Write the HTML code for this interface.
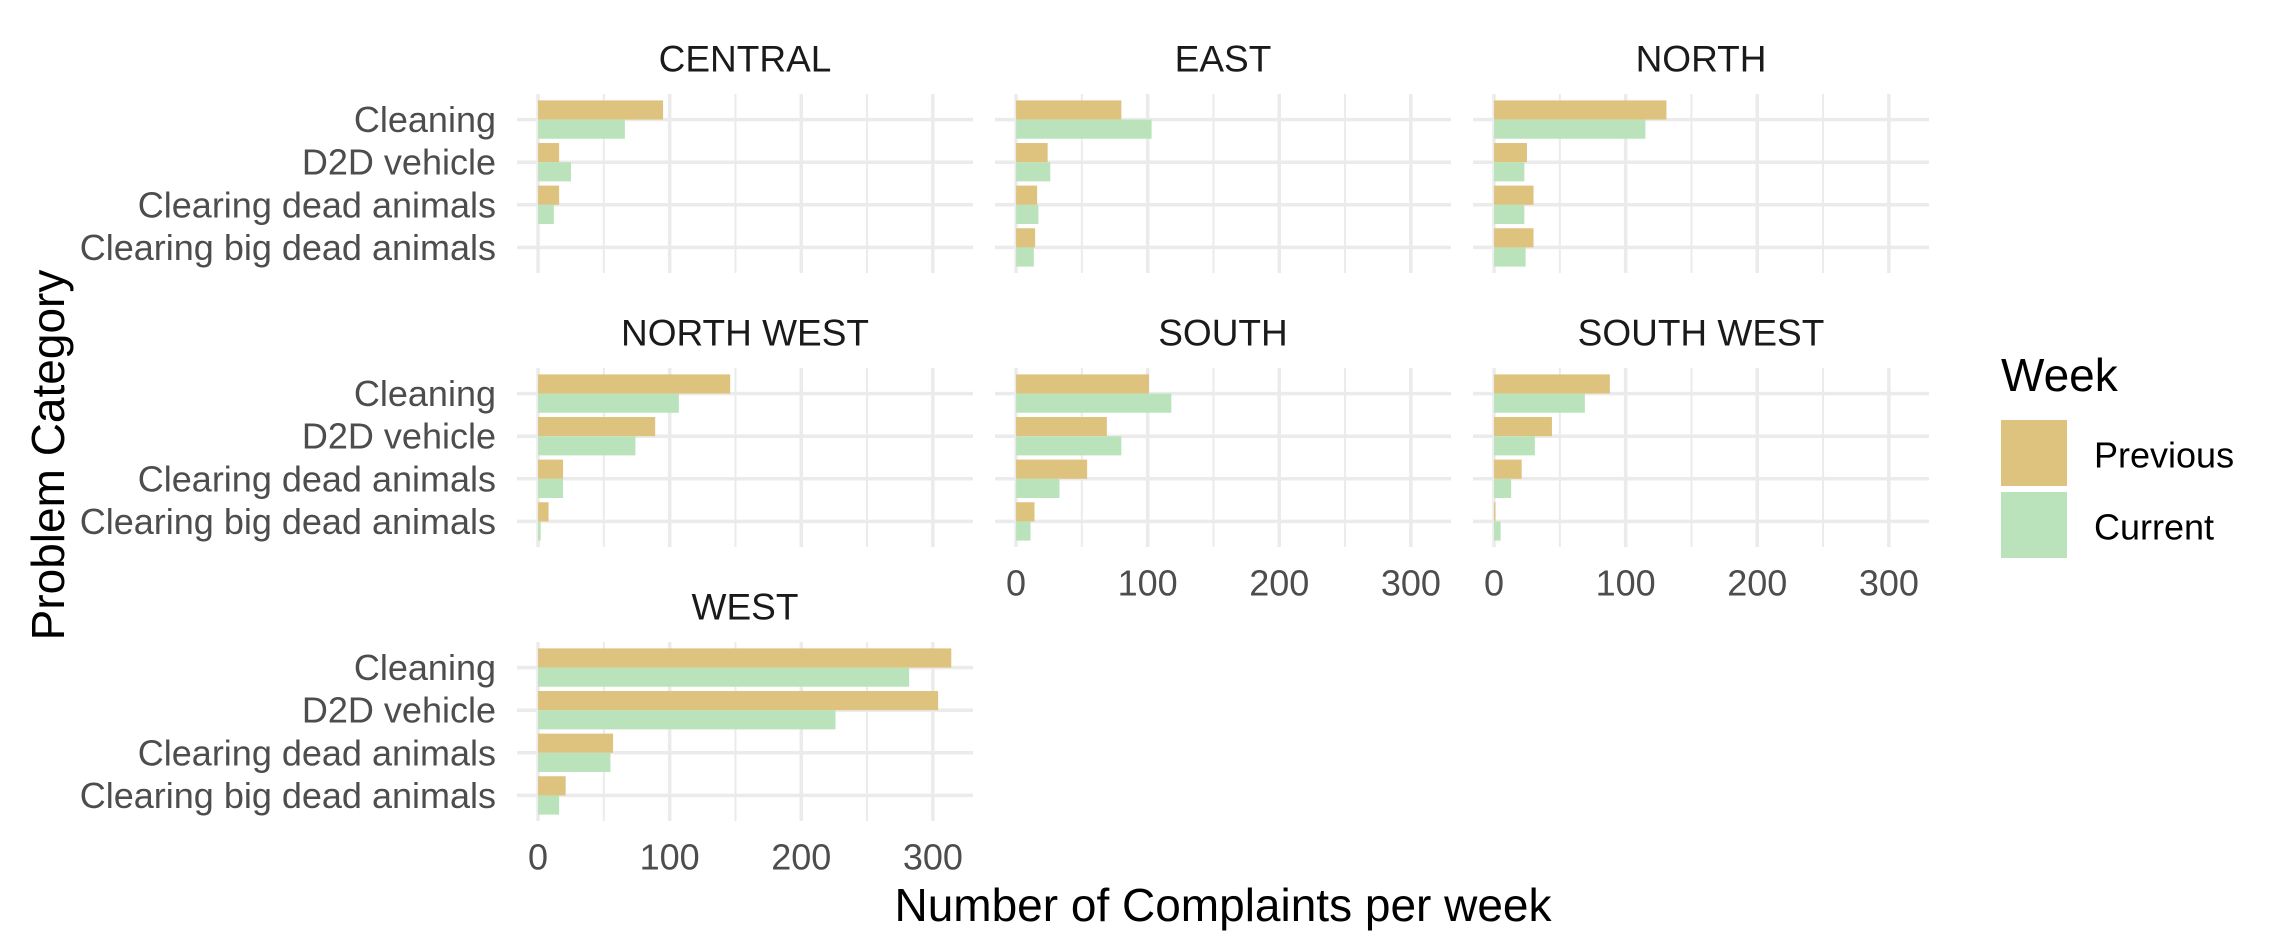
<!DOCTYPE html>
<html><head><meta charset="utf-8"><style>
html,body{margin:0;padding:0;background:#fff;}
svg{display:block;font-family:"Liberation Sans",Arial,sans-serif;}
</style></head><body>
<svg id="chart" width="2281" height="952" viewBox="0 0 2281 952">
<rect width="2281" height="952" fill="#fff"/>
<g id="panels"></g>
<text x="48" y="455" font-size="46" fill="#000" text-anchor="middle" dominant-baseline="central" transform="rotate(-90 48 455)">Problem Category</text>
<text x="1223" y="905" font-size="46" fill="#000" text-anchor="middle" dominant-baseline="central">Number of Complaints per week</text>
<g>
<text x="2001" y="375" font-size="46" fill="#000" dominant-baseline="central">Week</text>
<rect x="2001" y="420" width="66" height="66" fill="#dec37f"/>
<text x="2094" y="455" font-size="36" fill="#000" dominant-baseline="central">Previous</text>
<rect x="2001" y="492" width="66" height="66" fill="#bbe3bb"/>
<text x="2094" y="527" font-size="36" fill="#000" dominant-baseline="central">Current</text>
</g>
</svg>
<script>
const regions = ["CENTRAL","EAST","NORTH","NORTH WEST","SOUTH","SOUTH WEST","WEST"];
const categories = ["Cleaning","D2D vehicle","Clearing dead animals","Clearing big dead animals"];
const previousValues = [
  [95,16,16,0],
  [80,24,16,14.5],
  [131,25,30,30],
  [146,89,19,8],
  [101,69,54,14],
  [88,44,21,1],
  [314,304,57,21]
];
const currentValues = [
  [66,25,12,0],
  [103,26,17,13.5],
  [115,23,23,24],
  [107,74,19,2],
  [118,80,33,11],
  [69,31,13,5],
  [282,226,55,16]
];
const xTicks = [0,100,200,300];
const xMinor = [50,150,250];

const NS = "http://www.w3.org/2000/svg";
const root = document.getElementById('panels');
const colLeft = [517,995,1473], panelW = 456;
const rowTop = [94,368,642], panelH = 179;
const xMin = -16, xMax = 330.5;
function mk(tag, attrs, parent){
  const e = document.createElementNS(NS, tag);
  for (const k in attrs) e.setAttribute(k, attrs[k]);
  (parent||root).appendChild(e);
  return e;
}
regions.forEach((reg, i) => {
  const col = i % 3, row = Math.floor(i / 3);
  const L = colLeft[col], T = rowTop[row];
  const xs = v => L + (v - xMin) / (xMax - xMin) * panelW;
  const ys = p => T + (4.6 - p) / 4.2 * panelH;
  const unit = panelH / 4.2;
  const g = mk('g', {});
  
  
  xMinor.forEach(v => {
    const l = mk('line', {x1:xs(v), x2:xs(v), y1:T, y2:T+panelH, stroke:'#ebebeb', 'stroke-width':2}, g);
    
    
  });
  xTicks.forEach(v => {
    const l = mk('line', {x1:xs(v), x2:xs(v), y1:T, y2:T+panelH, stroke:'#ebebeb', 'stroke-width':3.5}, g);
    
    
  });
  categories.forEach((c, j) => {
    const p = 4 - j;
    const l = mk('line', {x1:L, x2:L+panelW, y1:ys(p), y2:ys(p), stroke:'#ebebeb', 'stroke-width':3.5}, g);
    
    
  });
  categories.forEach((c, j) => {
    const p = 4 - j, yc = ys(p), bh = 0.45 * unit;
    const pv = previousValues[i][j], cv = currentValues[i][j];
    const b1 = mk('rect', {x:xs(0), y:yc-bh, width:Math.max(0, xs(pv)-xs(0)), height:bh, fill:'#dec37f'}, g);
    
    
    const b2 = mk('rect', {x:xs(0), y:yc, width:Math.max(0, xs(cv)-xs(0)), height:bh, fill:'#bbe3bb'}, g);
    
    
    if (col === 0) {
      const t = mk('text', {x:L-21, y:yc, 'font-size':36, fill:'#4d4d4d', 'text-anchor':'end', 'dominant-baseline':'central'}, g);
      t.textContent = c;
      
      
    }
  });
  const st = mk('text', {x:L+panelW/2, y:T-35, 'font-size':37, fill:'#1a1a1a', 'text-anchor':'middle', 'dominant-baseline':'central'}, g);
  st.textContent = reg;
  
  
  const showX = (row === 2) || (row === 1 && col > 0);
  if (showX) {
    xTicks.forEach(v => {
      const t = mk('text', {x:xs(v), y:T+panelH+36, 'font-size':36, fill:'#4d4d4d', 'text-anchor':'middle', 'dominant-baseline':'central'}, g);
      t.textContent = v;
      
      
    });
  }
});
</script>
</body></html>
